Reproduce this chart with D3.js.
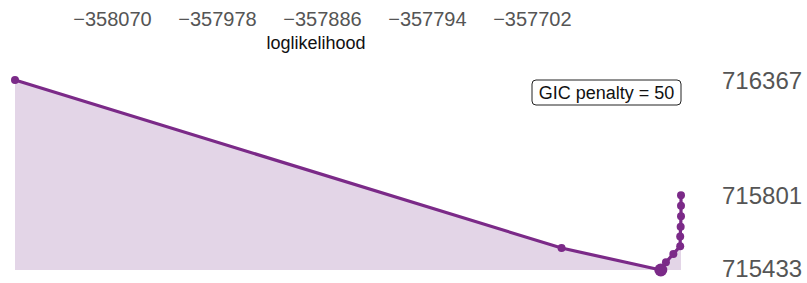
<!DOCTYPE html>
<html>

<head>
    <meta charset="utf-8">
    <title>GIC path</title>
    <script src="https://d3js.org/d3.v7.min.js"></script>
    <style>
        body { margin: 0; background: #fff; }
        text { font-family: "Liberation Sans", Arial, Helvetica, sans-serif; }
    </style>
</head>

<body>
    <script>
        // loglikelihood of each fitted model and its penalized criterion
        var loglik = [-358155, -357676, -357589, -357584.5, -357578, -357572, -357572, -357571.6, -357571.3, -357571.3, -357571.3];
        var gic = [716367, 715541, 715433, 715471, 715512, 715550, 715598, 715646, 715697, 715749, 715801];
        var xTicks = [-358070, -357978, -357886, -357794, -357702];
        var yTicks = [716367, 715801, 715433];
        var penalty = 50;

        var width = 807, height = 283;
        var points = loglik.map(function (d, i) { return { x: d, y: gic[i] }; });
        var best = d3.minIndex(gic);

        var svg = d3.select("body").append("svg")
            .attr("width", width)
            .attr("height", height);

        var x = d3.scaleLinear().domain(d3.extent(loglik)).range([15, 681]);
        var y = d3.scaleLinear().domain(d3.extent(gic)).range([270, 80]);

        var purple = "#7b2a88";

        svg.append("path")
            .datum(points)
            .attr("d", d3.area().x(d => x(d.x)).y0(y(d3.min(gic))).y1(d => y(d.y)))
            .style("fill", "#e3d5e7");

        svg.append("path")
            .datum(points)
            .attr("d", d3.line().x(d => x(d.x)).y(d => y(d.y)))
            .style("fill", "none")
            .style("stroke", purple)
            .style("stroke-width", 3.2);

        svg.selectAll("circle.pt")
            .data(points)
            .enter().append("circle")
            .attr("class", "pt")
            .attr("cx", d => x(d.x))
            .attr("cy", d => y(d.y))
            .attr("r", (d, i) => i === best ? 6.5 : 4)
            .style("fill", purple);

        // top x axis, labels only
        var xAxis = svg.append("g")
            .attr("transform", "translate(0,26)")
            .call(d3.axisTop(x).tickValues(xTicks).tickSize(0).tickPadding(0)
                .tickFormat(d3.format("d")));
        xAxis.select(".domain").remove();
        xAxis.selectAll("text")
            .style("font-size", "20px")
            .style("fill", "#555")
            .attr("dy", 0);

        svg.append("text")
            .attr("x", 316)
            .attr("y", 49)
            .attr("text-anchor", "middle")
            .style("font-size", "18px")
            .style("fill", "#111")
            .text("loglikelihood");

        // right y axis, labels only
        var yAxis = svg.append("g")
            .attr("transform", "translate(722,0)")
            .call(d3.axisRight(y).tickValues(yTicks).tickSize(0).tickPadding(0)
                .tickFormat(d3.format("d")));
        yAxis.select(".domain").remove();
        yAxis.selectAll("text")
            .style("font-size", "24px")
            .style("fill", "#555")
            .attr("dy", (d, i) => i === 2 ? "0.29em" : "0.36em");

        // penalty label box
        var box = svg.append("g").attr("transform", "translate(532,80)");
        box.append("rect")
            .attr("width", 149)
            .attr("height", 25)
            .attr("rx", 4)
            .style("fill", "#fff")
            .style("stroke", "#222")
            .style("stroke-width", 1);
        box.append("text")
            .attr("x", 74.5)
            .attr("y", 19)
            .attr("text-anchor", "middle")
            .style("font-size", "18px")
            .style("fill", "#111")
            .text("GIC penalty = " + penalty);
    </script>
</body>

</html>
